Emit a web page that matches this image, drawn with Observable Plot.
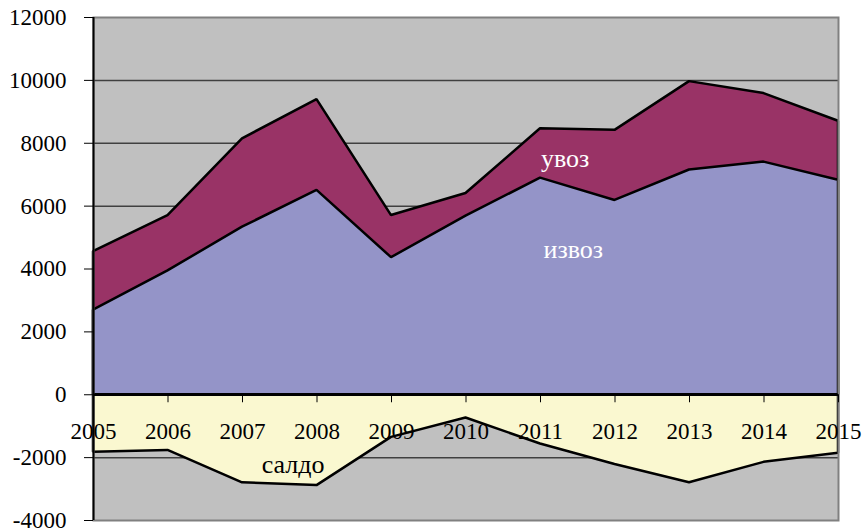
<!DOCTYPE html>
<html>
<head>
<meta charset="utf-8">
<script src="https://cdn.jsdelivr.net/npm/d3@7"></script>
<script src="https://cdn.jsdelivr.net/npm/@observablehq/plot@0.6"></script>
<style>
  html, body { margin: 0; padding: 0; background: white; }
</style>
</head>
<body>
<div id="chart"></div>
<script>
const years = [2005, 2006, 2007, 2008, 2009, 2010, 2011, 2012, 2013, 2014, 2015];
const uvoz  = [4550, 5700, 8140, 9390, 5700, 6400, 8460, 8410, 9960, 9580, 8700];
const izvoz = [2690, 3940, 5330, 6500, 4360, 5680, 6890, 6180, 7150, 7400, 6825];
const saldo = [-1830, -1770, -2800, -2890, -1355, -740, -1565, -2220, -2800, -2150, -1860];
const yTicks = [-4000, -2000, 0, 2000, 4000, 6000, 8000, 10000, 12000];
const gridTicks = [-2000, 2000, 4000, 6000, 8000, 10000];
const labelText  = ["увоз", "извоз", "салдо"];
const labelYear  = [2011.33, 2011.44, 2007.68];
const labelValue = [7520, 4600, -2230];
const labelColor = ["white", "white", "black"];

const data = years.map((year, i) => ({year, uvoz: uvoz[i], izvoz: izvoz[i], saldo: saldo[i]}));
const labels = labelText.map((t, i) => ({t, x: labelYear[i], y: labelValue[i], c: labelColor[i]}));

const font = "'Liberation Serif', 'DejaVu Serif', serif";

const chart = Plot.plot({
  width: 865,
  height: 531,
  marginLeft: 93,
  marginRight: 27,
  marginTop: 17,
  marginBottom: 11,
  style: {fontFamily: font, fontSize: "23px", background: "white", color: "black", overflow: "visible"},
  x: {domain: [years[0], years[years.length - 1]], axis: null},
  y: {domain: [yTicks[0], yTicks[yTicks.length - 1]], axis: null},
  marks: [
    Plot.frame({fill: "#C0C0C0"}),
    Plot.ruleY(gridTicks, {stroke: "#404040", strokeWidth: 1.5}),
    Plot.areaY(data, {x: "year", y: "uvoz", fill: "#993366", stroke: "black", strokeWidth: 2.5, strokeLinejoin: "miter"}),
    Plot.areaY(data, {x: "year", y: "izvoz", fill: "#9494C8", stroke: "black", strokeWidth: 2.5, strokeLinejoin: "miter"}),
    Plot.areaY(data, {x: "year", y: "saldo", fill: "#FAF8D0", stroke: "black", strokeWidth: 2.5, strokeLinejoin: "miter"}),
    Plot.frame({stroke: "#808080", strokeWidth: 2}),
    Plot.ruleX([years[0]], {stroke: "black", strokeWidth: 2}),
    Plot.ruleY([0], {stroke: "black", strokeWidth: 2.5}),
    Plot.ruleX(years, {x: d => d, y1: () => 0, y2: () => 0, insetBottom: -8, stroke: "black", strokeWidth: 1}),
    Plot.axisY({ticks: yTicks, anchor: "left", tickSize: 9, tickPadding: 18, label: null, tickFormat: d => String(d), stroke: "black", fill: "black", fontSize: 23, fontFamily: font}),
    Plot.text(years, {x: d => d, y: () => 0, dy: 37, text: d => String(d), fill: "black", fontSize: 23, fontFamily: font}),
    Plot.text(labels, {x: "x", y: "y", text: "t", fill: "c", fontSize: 26, fontFamily: font})
  ]
});
document.getElementById("chart").appendChild(chart);
</script>
</body>
</html>
